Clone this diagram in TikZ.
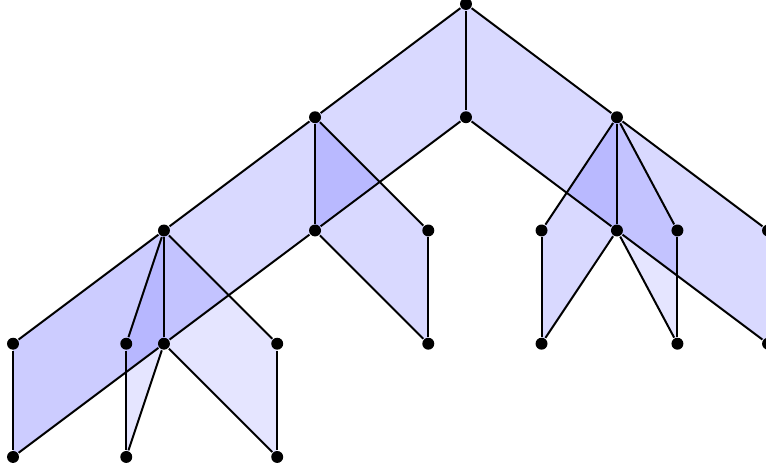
\documentclass[tikz,border=0pt]{standalone}
\usepackage{tikz}
\usetikzlibrary{backgrounds}

\begin{document}
\begin{tikzpicture}[
  line width=0.5pt,
  vertex/.style={circle, fill=black, inner sep=0pt, minimum size=3pt},
  face/.style={fill=blue, fill opacity=#1},
  face/.default=0.15
]
  \useasboundingbox (-4.115,-4.141) rectangle (2.649,0.035);

  % Vertices
  \node[vertex] (t)  at (0, 0) {};
  \node[vertex] (t2) at (0, -1) {};
  \node[vertex] (a)  at (-1.333, -1) {};
  \node[vertex] (a2) at (-1.333, -2) {};
  \node[vertex] (b)  at (1.333, -1) {};
  \node[vertex] (b2) at (1.333, -2) {};
  \node[vertex] (c)  at (-2.667, -2) {};
  \node[vertex] (c2) at (-2.667, -3) {};
  \node[vertex] (d)  at (-4, -3) {};
  \node[vertex] (d2) at (-4, -4) {};
  \node[vertex] (e)  at (2.667, -2) {};
  \node[vertex] (e2) at (2.667, -3) {};
  \node[vertex] (f)  at (-0.333, -2) {};
  \node[vertex] (f2) at (-0.333, -3) {};
  \node[vertex] (g)  at (-3, -3) {};
  \node[vertex] (g2) at (-3, -4) {};
  \node[vertex] (h)  at (-1.667, -3) {};
  \node[vertex] (h2) at (-1.667, -4) {};
  \node[vertex] (i)  at (0.667, -2) {};
  \node[vertex] (i2) at (0.667, -3) {};
  \node[vertex] (j)  at (1.867, -2) {};
  \node[vertex] (j2) at (1.867, -3) {};

  % Faces
  \begin{scope}[on background layer]
    \fill[face] (t.center) -- (a.center) -- (a2.center) -- (t2.center) -- cycle;
    \fill[face] (t.center) -- (b.center) -- (b2.center) -- (t2.center) -- cycle;
    \fill[face] (a.center) -- (c.center) -- (c2.center) -- (a2.center) -- cycle;
    \fill[face] (a.center) -- (f.center) -- (f2.center) -- (a2.center) -- cycle;
    \fill[face=0.2] (c.center) -- (d.center) -- (d2.center) -- (c2.center) -- cycle;
    \fill[face=0.1] (c.center) -- (g.center) -- (g2.center) -- (c2.center) -- cycle;
    \fill[face=0.1] (c.center) -- (h.center) -- (h2.center) -- (c2.center) -- cycle;
    \fill[face] (b.center) -- (e.center) -- (e2.center) -- (b2.center) -- cycle;
    \fill[face] (b.center) -- (i.center) -- (i2.center) -- (b2.center) -- cycle;
    \fill[face=0.1] (b.center) -- (j.center) -- (j2.center) -- (b2.center) -- cycle;
  \end{scope}

  % Edges
  \draw (t) -- (t2);
  \draw (t) -- (a);
  \draw (t2) -- (a2);
  \draw (a) -- (a2);
  \draw (t) -- (b);
  \draw (t2) -- (b2);
  \draw (b) -- (b2);

  \draw (a) -- (c);
  \draw (a2) -- (c2);
  \draw (c) -- (c2);
  \draw (a) -- (f);
  \draw (a2) -- (f2);
  \draw (f) -- (f2);

  \draw (c) -- (d);
  \draw (c2) -- (d2);
  \draw (d) -- (d2);
  \draw (c) -- (g);
  \draw (c2) -- (g2);
  \draw (g) -- (g2);
  \draw (c) -- (h);
  \draw (c2) -- (h2);
  \draw (h) -- (h2);

  \draw (b) -- (e);
  \draw (b2) -- (e2);
  \draw (e) -- (e2);
  \draw (b) -- (i);
  \draw (b2) -- (i2);
  \draw (i) -- (i2);
  \draw (b) -- (j);
  \draw (b2) -- (j2);
  \draw (j) -- (j2);

\end{tikzpicture}
\end{document}
